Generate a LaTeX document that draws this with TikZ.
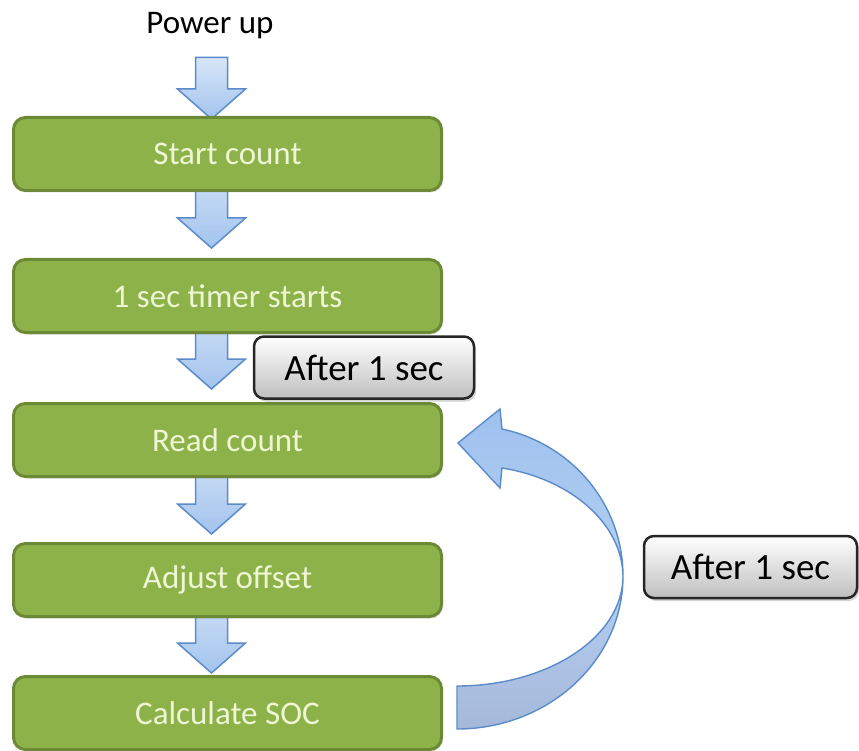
\documentclass[tikz,border=0pt]{standalone}
\usepackage{fontspec}
\setmainfont{Carlito}
\usetikzlibrary{positioning, calc, shadows, backgrounds}

\definecolor{stepgreen}{HTML}{8DB24A}
\definecolor{stepline}{HTML}{6C8A35}
\definecolor{steptext}{HTML}{EEF6D4}
\definecolor{flowline}{HTML}{5B8BC9}
\definecolor{flowlight}{HTML}{D8E6F8}
\definecolor{flowdark}{HTML}{A3C4EE}
\definecolor{looplight}{HTML}{B4D0F2}
\definecolor{loopfront}{HTML}{9EC1EE}
\definecolor{loopback}{HTML}{A6B8DA}

\tikzset{
  stepbox/.style = { draw = stepline, line width = 3pt, fill = stepgreen,
    rounded corners = 12pt, minimum width = 428pt, minimum height = 73pt,
    text = steptext, font = \fontsize{33}{38}\selectfont,
    drop shadow = {shadow xshift=1.5pt, shadow yshift=-2pt, opacity=.25} },
  notebox/.style = { draw = black!85, line width = 2.5pt, rounded corners = 10pt,
    top color = white, bottom color = black!25, minimum height = 62pt,
    font = \fontsize{37}{42}\selectfont,
    drop shadow = {shadow xshift=2pt, shadow yshift=-3pt, opacity=.35} },
  flowfill/.style = { draw = flowline, line width = 1.5pt,
    top color = flowlight, bottom color = flowdark }
}

% block arrow: [#1 gap] #2 tail point, #3 node it points at
\newcommand\flowarrow[3][8pt]{%
  \path[flowfill] let \p1 = #2, \p2 = (#3.north) in
    (\x2-32pt,\y1) -- (\x2,\y1) -- (\x2,\y2+30pt+#1) -- (\x2+18pt,\y2+30pt+#1)
    -- (\x2-16pt,\y2+#1) -- (\x2-50pt,\y2+30pt+#1) -- (\x2-32pt,\y2+30pt+#1) -- cycle;}

\begin{document}
\begin{tikzpicture}[x = 1pt, y = -1pt]
  \useasboundingbox (0,0) rectangle (859,751);

  \node [inner sep = 0, font = \fontsize{33}{38}\selectfont] (power) at (210,26) { Power up };

  \node [stepbox] (start) at (227.5,154) { Start count };
  \node [stepbox, below = 66pt of start] (timer) { 1 sec timer starts };
  \node [stepbox, below = 68pt of timer] (read) { Read count };
  \node [stepbox, below = 64pt of read] (adjust) { Adjust offset };
  \node [stepbox, below = 57pt of adjust] (soc) { Calculate SOC };

  \node [notebox, minimum width = 220pt] (wait1) at (364,367.5) { After 1 sec };
  \node [notebox, minimum width = 213pt] (wait2) at (750.5,567) { After 1 sec };

  \begin{scope}[on background layer]
    \flowarrow[-3pt]{($(power.south)+(0,18)$)}{start}
    \flowarrow[10pt]{(start.center)}{timer}
    \flowarrow[13pt]{(timer.center)}{read}
    \flowarrow{(read.center)}{adjust}
    \flowarrow[2pt]{(adjust.center)}{soc}
  \end{scope}

  % loop back from soc to read
  \begin{scope}[shift = {(soc.east)}, draw = flowline, line width = 1.4pt]
    \path[draw, top color = looplight, bottom color = loopback]
      (14,-27) .. controls (105.6,-27) and (180,-76.3) .. (180,-137)
      .. controls (180,-52.5) and (105.6,16) .. (14,16) -- cycle;
    \path[draw, top color = loopfront, bottom color = looplight]
      (59,-284) .. controls (129.5,-269) and (180,-207.8) .. (180,-137)
      .. controls (179,-189) and (128.8,-233.8) .. (59,-245)
      -- (57,-225) -- (15,-270) -- (57,-304) -- cycle;
  \end{scope}
\end{tikzpicture}
\end{document}
